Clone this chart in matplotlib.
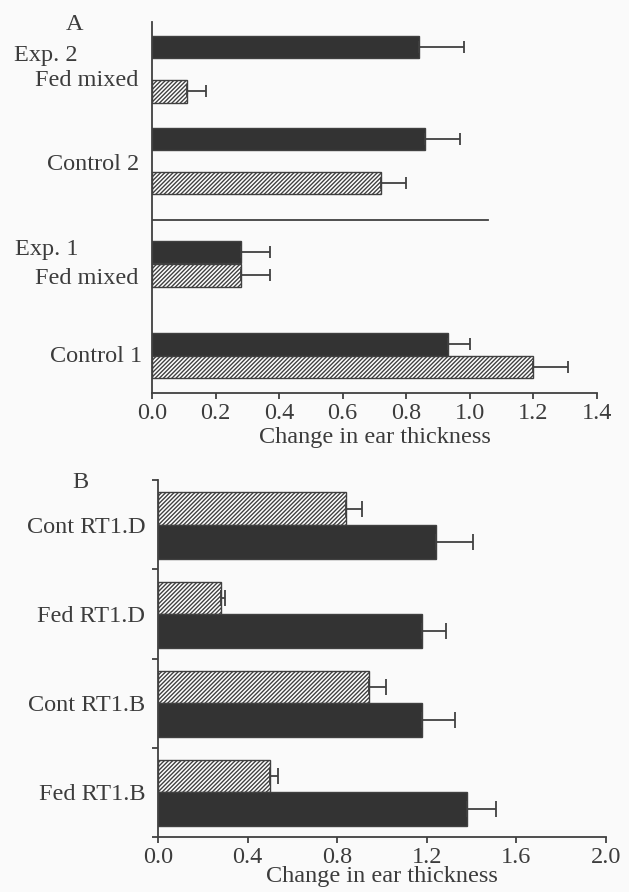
import matplotlib as mpl
import matplotlib.pyplot as plt

# Panel A data (dark = first bar of pair, hatched = second)
a_dark_vals = [0.84, 0.86, 0.28, 0.93]
a_dark_err = [0.14, 0.11, 0.09, 0.07]
a_hatch_vals = [0.11, 0.72, 0.28, 1.20]
a_hatch_err = [0.06, 0.08, 0.09, 0.11]
a_xticks = [0.0, 0.2, 0.4, 0.6, 0.8, 1.0, 1.2, 1.4]

# Panel B data, top to bottom
b_labels = ['Cont RT1.D', 'Fed RT1.D', 'Cont RT1.B', 'Fed RT1.B']
b_hatch_vals = [0.84, 0.28, 0.94, 0.50]
b_hatch_err = [0.07, 0.02, 0.08, 0.035]
b_dark_vals = [1.24, 1.18, 1.18, 1.38]
b_dark_err = [0.165, 0.105, 0.145, 0.13]
b_xticks = [0.0, 0.4, 0.8, 1.2, 1.6, 2.0]

XLABEL = 'Change in ear thickness'

# Style
TEXT_COLOR = '#3c3c3c'
LINE_COLOR = '#404040'
DARK_FILL = '#333333'
HATCH_FILL = 'white'
BG = '#fafafa'
mpl.rcParams['font.family'] = ['Liberation Serif', 'DejaVu Serif']
mpl.rcParams['font.size'] = 17.5
mpl.rcParams['text.color'] = TEXT_COLOR
mpl.rcParams['axes.labelcolor'] = TEXT_COLOR
mpl.rcParams['xtick.color'] = LINE_COLOR
mpl.rcParams['ytick.color'] = LINE_COLOR
mpl.rcParams['xtick.labelcolor'] = TEXT_COLOR
mpl.rcParams['ytick.labelcolor'] = TEXT_COLOR
mpl.rcParams['axes.edgecolor'] = LINE_COLOR
mpl.rcParams['hatch.color'] = '#555555'
mpl.rcParams['hatch.linewidth'] = 1.0

W, H = 629, 892
fig = plt.figure(figsize=(W / 100, H / 100), dpi=100, facecolor=BG)


def px(x, y):
    # pixel position -> figure fraction
    return x / W, 1 - y / H


def bars(ax, y, vals, errs, dark, height, cap):
    ax.barh(y, vals, height=height,
            color=DARK_FILL if dark else HATCH_FILL,
            edgecolor=LINE_COLOR, linewidth=1.0,
            hatch=None if dark else '////////', zorder=2)
    ax.errorbar(vals, y, xerr=[[0] * len(vals), errs], fmt='none',
                ecolor=LINE_COLOR, elinewidth=1.3, capsize=cap,
                capthick=1.3, zorder=3)


def style(ax):
    ax.set_facecolor(BG)
    for s in ['top', 'right']:
        ax.spines[s].set_visible(False)
    for s in ['left', 'bottom']:
        ax.spines[s].set_linewidth(1.3)
    ax.tick_params(axis='x', direction='out', length=4, width=1.3, pad=3)


# ---------------- Panel A ----------------
axA = fig.add_axes([152 / W, 1 - 393 / H, 445 / W, 371 / H])
style(axA)
# bar centres (layout), from top pair to bottom pair
a_dark_y = [15.39, 11.30, 6.27, 2.16]
a_hatch_y = [13.41, 9.34, 5.23, 1.16]
bars(axA, a_dark_y, a_dark_vals, a_dark_err, True, 1.0, 4.3)
bars(axA, a_hatch_y, a_hatch_vals, a_hatch_err, False, 1.0, 4.3)
axA.plot([0, 1.057], [7.70, 7.70], color=LINE_COLOR, lw=1.3, zorder=2)
axA.set_xlim(0, 1.4)
axA.set_ylim(0, 16.5)
axA.set_xticks(a_xticks)
axA.set_xticklabels([f'{t:.1f}' for t in a_xticks])
axA.set_yticks([])
axA.set_xlabel(XLABEL, labelpad=2)

fig.text(*px(75, 25), 'A', ha='center', va='center')
fig.text(*px(14, 56), 'Exp. 2', ha='left', va='center')
fig.text(*px(138, 80), 'Fed mixed', ha='right', va='center')
fig.text(*px(139, 164), 'Control 2', ha='right', va='center')
fig.text(*px(15, 250), 'Exp. 1', ha='left', va='center')
fig.text(*px(138, 279), 'Fed mixed', ha='right', va='center')
fig.text(*px(142, 356), 'Control 1', ha='right', va='center')

# ---------------- Panel B ----------------
axB = fig.add_axes([158 / W, 1 - 837 / H, 448 / W, 357 / H])
style(axB)
n = len(b_labels)
base = [n - 1 - i for i in range(n)]
bars(axB, [g + 0.68 for g in base], b_hatch_vals, b_hatch_err, False, 0.36, 6.0)
bars(axB, [g + 0.31 for g in base], b_dark_vals, b_dark_err, True, 0.38, 6.0)
axB.set_xlim(0, 2.0)
axB.set_ylim(0, n)
axB.set_xticks(b_xticks)
axB.set_xticklabels([f'{t:.1f}' for t in b_xticks])
axB.set_yticks(range(n + 1))
axB.set_yticklabels([])
axB.set_yticks([g + 0.5 for g in base], b_labels, minor=True)
axB.tick_params(axis='y', which='major', direction='out', length=4, width=1.3)
axB.tick_params(axis='y', which='minor', length=0, pad=9)
axB.set_xlabel(XLABEL, labelpad=-1)

fig.text(*px(80, 483), 'B', ha='center', va='center')

fig.savefig('out.png', dpi=100, facecolor=BG)
